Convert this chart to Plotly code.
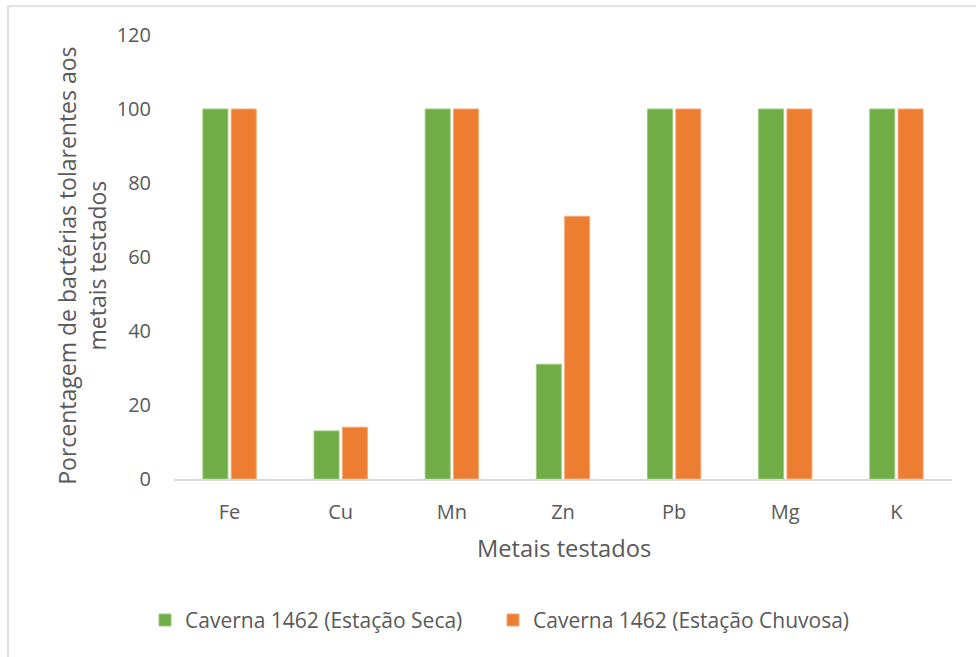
import plotly.graph_objects as go

# Metals tested and share of tolerant bacteria (%) per season
metais = ["Fe", "Cu", "Mn", "Zn", "Pb", "Mg", "K"]
seca = [100, 13, 100, 31, 100, 100, 100]
chuvosa = [100, 14, 100, 71, 100, 100, 100]
y_ticks = [0, 20, 40, 60, 80, 100, 120]

VERDE = "#70AD47"
LARANJA = "#ED7D31"
TEXTO = "#595959"
FONTE = "'Open Sans', sans-serif"

fig = go.Figure()
fig.add_trace(go.Bar(
    x=metais, y=seca, name="Caverna 1462 (Estação Seca)",
    marker=dict(color=VERDE, line=dict(color="#9cc97f", width=1)),
    legend="legend",
))
fig.add_trace(go.Bar(
    x=metais, y=chuvosa, name="Caverna 1462 (Estação Chuvosa)",
    marker=dict(color=LARANJA, line=dict(color="#f3a877", width=1)),
    legend="legend2",
))

L, R, T, B = 174, 24, 35, 177.5
W, H = 976, 657
pw = W - L - R
ph = H - T - B


def px_x(p):
    return (p - L) / pw


def px_y(p):
    return (H - B - p) / ph


def legenda(x_px):
    return dict(
        orientation="h", x=px_x(x_px), xanchor="left", y=px_y(621),
        yanchor="middle", font=dict(size=21, color=TEXTO), itemwidth=30,
        bgcolor="rgba(0,0,0,0)",
    )


fig.update_layout(
    width=W, height=H,
    margin=dict(l=L, r=R, t=T, b=B),
    paper_bgcolor="white", plot_bgcolor="white",
    barmode="group", bargap=0.49, bargroupgap=0.118,
    font=dict(family=FONTE, color=TEXTO, size=20),
    showlegend=True,
    legend=legenda(145),
    legend2=legenda(493),
    xaxis=dict(
        showgrid=False, showline=True, linecolor="#d9d9d9", linewidth=2,
        ticks="", tickfont=dict(size=20, color=TEXTO), ticklabelstandoff=14,
        fixedrange=True,
    ),
    yaxis=dict(
        range=[0, 120], tickvals=y_ticks, showgrid=False, showline=False,
        zeroline=False, ticks="", tickfont=dict(size=20, color=TEXTO),
        ticklabelstandoff=22, fixedrange=True,
    ),
    shapes=[dict(
        type="rect", xref="paper", yref="paper",
        x0=px_x(8), x1=px_x(984), y0=px_y(664), y1=px_y(6),
        line=dict(color="#d9d9d9", width=1.5), fillcolor="rgba(0,0,0,0)",
        layer="below",
    )],
    annotations=[
        dict(
            text="Porcentagem de bactérias tolarentes aos<br>metais testados",
            xref="paper", yref="paper", x=px_x(82), y=px_y(266),
            xanchor="center", yanchor="middle", textangle=-90, showarrow=False,
            font=dict(size=23, color=TEXTO),
        ),
        dict(
            text="Metais testados", xref="paper", yref="paper",
            x=px_x(564), y=px_y(549), xanchor="center", yanchor="middle",
            showarrow=False, font=dict(size=23.7, color=TEXTO),
        ),
    ],
)

fig.write_html("out.html")
